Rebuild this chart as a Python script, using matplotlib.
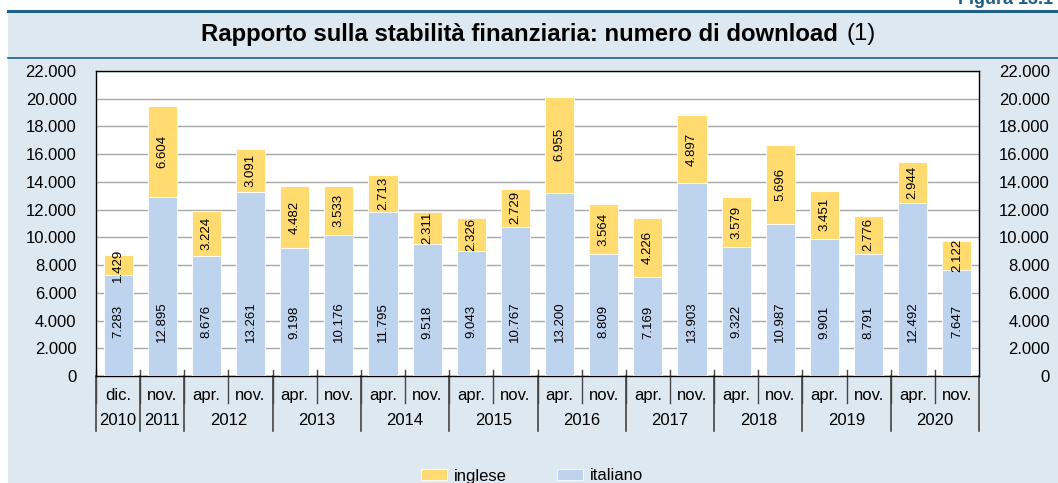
import matplotlib.pyplot as plt
from matplotlib.lines import Line2D
import numpy as np

plt.rcParams['font.family'] = ['Liberation Sans', 'DejaVu Sans']

# dati
mesi = ["dic.", "nov.", "apr.", "nov.", "apr.", "nov.", "apr.", "nov.", "apr.", "nov.",
        "apr.", "nov.", "apr.", "nov.", "apr.", "nov.", "apr.", "nov.", "apr.", "nov."]
anni = ["2010", "2011", "2012", "2013", "2014", "2015", "2016", "2017", "2018", "2019", "2020"]
barre_per_anno = [1, 1, 2, 2, 2, 2, 2, 2, 2, 2, 2]
italiano = [7283, 12895, 8676, 13261, 9198, 10176, 11795, 9518, 9043, 10767,
            13200, 8809, 7169, 13903, 9322, 10987, 9901, 8791, 12492, 7647]
inglese = [1429, 6604, 3224, 3091, 4482, 3533, 2713, 2311, 2326, 2729,
           6955, 3564, 4226, 4897, 3579, 5696, 3451, 2776, 2944, 2122]
y_ticks = list(range(0, 22001, 2000))

col_ita = '#BED3EE'
col_eng = '#FFDB70'
col_bg = '#DDE8F1'
col_line = '#1D5F85'

W, H = 1058, 483
fig = plt.figure(figsize=(W / 100, H / 100), dpi=100)
fig.patch.set_facecolor('white')

# pannello di sfondo
fig.patches.append(plt.Rectangle((8 / W, 0), 1 - 8 / W, 1 - 10 / H, transform=fig.transFigure,
                                 facecolor=col_bg, edgecolor='none', zorder=-10))
fig.add_artist(Line2D([8 / W, 1], [1 - 10.5 / H] * 2, color=col_line, lw=2.2))
fig.add_artist(Line2D([8 / W, 1], [1 - 58 / H] * 2, color=col_line, lw=1.2))

fig.text(958 / W, 1 - 4 / H, "Figura 13.1", color=col_line, fontsize=13, fontweight='bold',
         ha='left', va='baseline')

# titolo
fig.text(838 / W, 1 - 34 / H, "Rapporto sulla stabilità finanziaria: numero di download",
         fontsize=17.2, fontweight='bold', ha='right', va='center')
fig.text(846 / W, 1 - 34 / H, "(1)", fontsize=17.2, ha='left', va='center')

ax = fig.add_axes([96 / W, 1 - 376 / H, (979 - 96) / W, (376 - 71) / H])
ax.set_facecolor('white')

x = np.arange(len(italiano))
w = 0.66
b1 = ax.bar(x, italiano, w, color=col_ita, edgecolor='white', lw=0.6, label='italiano', zorder=3)
b2 = ax.bar(x, inglese, w, bottom=italiano, color=col_eng, edgecolor='white', lw=0.6,
            label='inglese', zorder=3)

for i in range(len(x)):
    ax.text(x[i], 3900, f"{italiano[i]:,}".replace(',', '.'), rotation=90,
            ha='center', va='center', fontsize=9.5, zorder=4)
    ax.text(x[i], italiano[i] + inglese[i] / 2, f"{inglese[i]:,}".replace(',', '.'),
            rotation=90, ha='center', va='center', fontsize=9.5, zorder=4)

ax.set_xlim(-0.5, len(x) - 0.5)
ax.set_ylim(0, 22000)
ax.yaxis.grid(True, color='#A8A8A8', lw=1, zorder=0)
ax.set_axisbelow(True)
for s in ax.spines.values():
    s.set_color('black')
    s.set_linewidth(1)

etichette = [f"{v:,}".replace(',', '.') for v in y_ticks]
ax.set_yticks(y_ticks)
ax.set_yticklabels(etichette, fontsize=12)
ax.tick_params(axis='y', length=0, pad=14)
ax.set_xticks([])

ax2 = ax.twinx()
ax2.set_ylim(0, 22000)
ax2.set_yticks(y_ticks)
ax2.set_yticklabels(etichette, fontsize=12, ha='right')
ax2.tick_params(axis='y', length=0, pad=51)
for s in ax2.spines.values():
    s.set_visible(False)

# asse x a due livelli
tr = ax.get_xaxis_transform()
for i, m in enumerate(mesi):
    ax.text(x[i], -0.064, m, transform=tr, ha='center', va='center', fontsize=12)
    ax.plot([i - 0.5, i - 0.5], [0.02, -0.088], transform=tr, color='#444444', lw=1,
            clip_on=False)
pos = -0.5
for anno, n in zip(anni, barre_per_anno):
    ax.plot([pos, pos], [0, -0.18], transform=tr, color='#444444', lw=1.2, clip_on=False)
    ax.text(pos + n / 2, -0.146, anno, transform=tr, ha='center', va='center', fontsize=12)
    pos += n
ax.plot([pos, pos], [0, -0.18], transform=tr, color='#444444', lw=1.2, clip_on=False)

fig.legend(handles=[b2, b1], labels=['inglese', 'italiano'], loc='center', ncol=2,
           bbox_to_anchor=(532 / W, 1 - 476 / H), frameon=False, fontsize=12,
           handlelength=1.6, handleheight=0.6, columnspacing=3.0, handletextpad=0.4)

fig.savefig('out.png', dpi=100)
